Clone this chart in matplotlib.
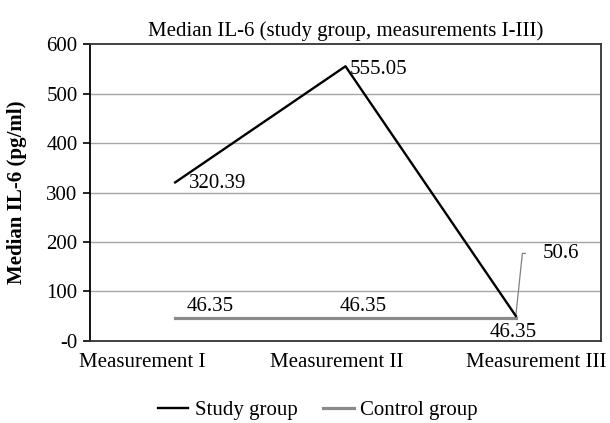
import matplotlib
matplotlib.use("Agg")
import matplotlib.pyplot as plt
from matplotlib.transforms import ScaledTranslation

# ========= data =========
categories = ["Measurement I", "Measurement II", "Measurement III"]
study_values = [320.39, 555.05, 50.6]
control_values = [46.35, 46.35, 46.35]
y_ticks = [0, 100, 200, 300, 400, 500, 600]
y_tick_labels = ["-0", "100", "200", "300", "400", "500", "600"]

plt.rcParams["font.family"] = ["Liberation Serif", "DejaVu Serif"]
FS = 15

fig = plt.figure(figsize=(6.10, 4.23), dpi=100)
ax = fig.add_axes([0.1475, 0.1939, 0.8377, 0.702])

x = list(range(len(categories)))

ax.plot(x, control_values, color="#8a8a8a", linewidth=2.3, label="Control group", zorder=3)
ax.plot(x, study_values, color="black", linewidth=1.7, label="Study group", zorder=4)

ax.set_xlim(-0.5, len(categories) - 0.5)
ax.set_ylim(0, 600)
ax.set_yticks(y_ticks)
ax.set_yticklabels(y_tick_labels)
ax.set_xticks(x)
ax.set_xticklabels(categories)
ax.tick_params(axis="x", length=0, labelsize=FS, pad=9)
ax.tick_params(axis="y", length=5, width=1.2, labelsize=FS, pad=4)

# category labels in the original sit a bit off the category centres
label_shift_px = [-33, -9, 20]
for lab, dx in zip(ax.get_xticklabels(), label_shift_px):
    lab.set_transform(lab.get_transform() + ScaledTranslation(dx / 100, 0, fig.dpi_scale_trans))

for yv in y_ticks[1:-1]:
    ax.axhline(yv, color="#a6a6a6", linewidth=1.0, zorder=1)
for name, s in ax.spines.items():
    s.set_linewidth(1.3)
    s.set_color("black" if name == "left" else "#333333")

ax.set_ylabel("Median IL-6 (pg/ml)", fontsize=FS, fontweight="bold")
ax.yaxis.set_label_coords(-0.123, 0.5)
ax.set_title("Median IL-6 (study group, measurements I-III)", fontsize=FS, pad=6)

# data labels - study group
ax.annotate(f"{study_values[0]:.2f}", (x[0], study_values[0]), xytext=(10, -1),
            textcoords="offset points", ha="left", va="center", fontsize=FS)
ax.annotate(f"{study_values[1]:.2f}", (x[1], study_values[1]), xytext=(3, -2),
            textcoords="offset points", ha="left", va="center", fontsize=FS)
ax.annotate(f"{study_values[2]:.1f}", (x[2], study_values[2]), xytext=(19, 45),
            textcoords="offset points", ha="left", va="center", fontsize=FS,
            arrowprops=dict(arrowstyle="-", color="#808080", lw=0.9,
                            connectionstyle="angle,angleA=0,angleB=84,rad=0",
                            relpos=(0, 0.5), shrinkA=10, shrinkB=0))

# data labels - control group
ax.annotate(f"{control_values[0]:.2f}", (x[0], control_values[0]), xytext=(8, 8.5),
            textcoords="offset points", ha="left", va="center", fontsize=FS)
ax.annotate(f"{control_values[1]:.2f}", (x[1], control_values[1]), xytext=(-4, 8.5),
            textcoords="offset points", ha="left", va="center", fontsize=FS)
ax.annotate(f"{control_values[2]:.2f}", (x[2], control_values[2]), xytext=(-2, -10.5),
            textcoords="offset points", ha="center", va="center", fontsize=FS)

handles, labels = ax.get_legend_handles_labels()
fig.legend(handles[::-1], labels[::-1], loc="center", ncol=2, frameon=False,
           fontsize=FS, bbox_to_anchor=(0.521, 0.03), handlelength=1.45,
           handletextpad=0.3, columnspacing=1.25, borderpad=0, borderaxespad=0)

fig.savefig("out.png", dpi=100)
